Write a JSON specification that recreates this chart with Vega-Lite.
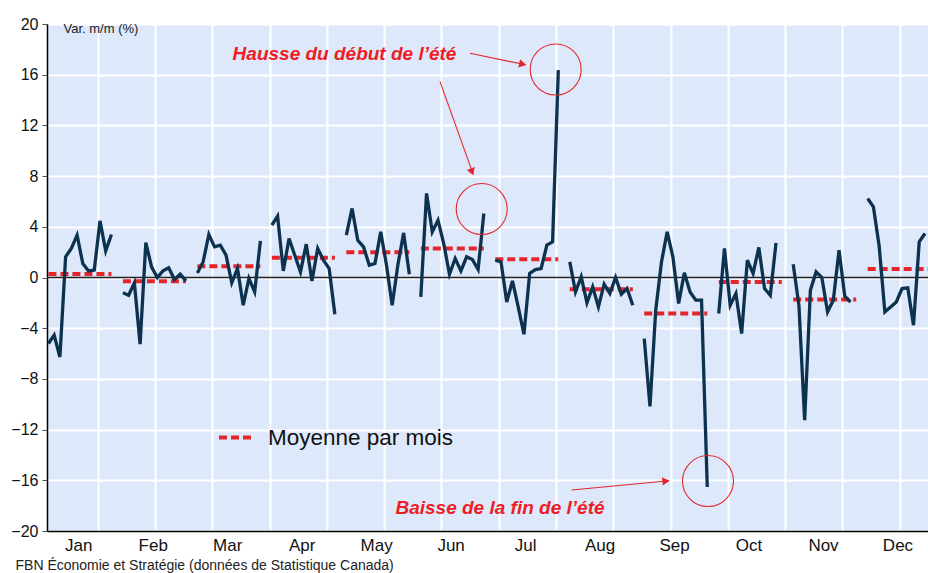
{
  "$schema": "https://vega.github.io/schema/vega-lite/v6.json",
  "width": 881,
  "height": 507,
  "autosize": "none",
  "padding": {"left": 47, "top": 24, "right": 0, "bottom": 42},
  "background": "white",
  "config": {"font": "Liberation Sans", "view": {"fill": "#dde9fa", "stroke": null}},
  "resolve": {"axis": {"x": "independent"}},
  "datasets": {
    "obs": [
      {"m":"Jan","obs":0,"v":-5.21},{"m":"Jan","obs":1,"v":-4.55},{"m":"Jan","obs":2,"v":-6.27},{"m":"Jan","obs":3,"v":1.63},{"m":"Jan","obs":4,"v":2.3},{"m":"Jan","obs":5,"v":3.34},{"m":"Jan","obs":6,"v":1.1},{"m":"Jan","obs":7,"v":0.52},{"m":"Jan","obs":8,"v":0.58},{"m":"Jan","obs":9,"v":4.47},{"m":"Jan","obs":10,"v":2.1},{"m":"Jan","obs":11,"v":3.39},
      {"m":"Feb","obs":13,"v":-1.21},{"m":"Feb","obs":14,"v":-1.4},{"m":"Feb","obs":15,"v":-0.42},{"m":"Feb","obs":16,"v":-5.26},{"m":"Feb","obs":17,"v":2.76},{"m":"Feb","obs":18,"v":0.84},{"m":"Feb","obs":19,"v":0.0},{"m":"Feb","obs":20,"v":0.52},{"m":"Feb","obs":21,"v":0.76},{"m":"Feb","obs":22,"v":-0.16},{"m":"Feb","obs":23,"v":0.26},{"m":"Feb","obs":24,"v":-0.27},
      {"m":"Mar","obs":26,"v":0.35},{"m":"Mar","obs":27,"v":1.23},{"m":"Mar","obs":28,"v":3.39},{"m":"Mar","obs":29,"v":2.42},{"m":"Mar","obs":30,"v":2.55},{"m":"Mar","obs":31,"v":1.76},{"m":"Mar","obs":32,"v":-0.42},{"m":"Mar","obs":33,"v":0.71},{"m":"Mar","obs":34,"v":-2.19},{"m":"Mar","obs":35,"v":-0.08},{"m":"Mar","obs":36,"v":-1.14},{"m":"Mar","obs":37,"v":2.89},
      {"m":"Apr","obs":39,"v":4.13},{"m":"Apr","obs":40,"v":4.84},{"m":"Apr","obs":41,"v":0.52},{"m":"Apr","obs":42,"v":3.08},{"m":"Apr","obs":43,"v":1.76},{"m":"Apr","obs":44,"v":0.44},{"m":"Apr","obs":45,"v":2.63},{"m":"Apr","obs":46,"v":-0.27},{"m":"Apr","obs":47,"v":2.29},{"m":"Apr","obs":48,"v":1.37},{"m":"Apr","obs":49,"v":0.71},{"m":"Apr","obs":50,"v":-2.9},
      {"m":"May","obs":52,"v":3.34},{"m":"May","obs":53,"v":5.45},{"m":"May","obs":54,"v":2.94},{"m":"May","obs":55,"v":2.42},{"m":"May","obs":56,"v":0.97},{"m":"May","obs":57,"v":1.1},{"m":"May","obs":58,"v":3.6},{"m":"May","obs":59,"v":1.0},{"m":"May","obs":60,"v":-2.2},{"m":"May","obs":61,"v":1.0},{"m":"May","obs":62,"v":3.52},{"m":"May","obs":63,"v":0.26},
      {"m":"Jun","obs":65,"v":-1.53},{"m":"Jun","obs":66,"v":6.63},{"m":"Jun","obs":67,"v":3.6},{"m":"Jun","obs":68,"v":4.52},{"m":"Jun","obs":69,"v":2.68},{"m":"Jun","obs":70,"v":0.26},{"m":"Jun","obs":71,"v":1.5},{"m":"Jun","obs":72,"v":0.52},{"m":"Jun","obs":73,"v":1.63},{"m":"Jun","obs":74,"v":1.42},{"m":"Jun","obs":75,"v":0.63},{"m":"Jun","obs":76,"v":5.05},
      {"m":"Jul","obs":78,"v":1.37},{"m":"Jul","obs":79,"v":1.23},{"m":"Jul","obs":80,"v":-1.93},{"m":"Jul","obs":81,"v":-0.27},{"m":"Jul","obs":82,"v":-2.32},{"m":"Jul","obs":83,"v":-4.48},{"m":"Jul","obs":84,"v":0.32},{"m":"Jul","obs":85,"v":0.63},{"m":"Jul","obs":86,"v":0.71},{"m":"Jul","obs":87,"v":2.55},{"m":"Jul","obs":88,"v":2.81},{"m":"Jul","obs":89,"v":16.36},
      {"m":"Aug","obs":91,"v":1.23},{"m":"Aug","obs":92,"v":-1.14},{"m":"Aug","obs":93,"v":0.05},{"m":"Aug","obs":94,"v":-2.0},{"m":"Aug","obs":95,"v":-0.74},{"m":"Aug","obs":96,"v":-2.32},{"m":"Aug","obs":97,"v":-0.53},{"m":"Aug","obs":98,"v":-1.26},{"m":"Aug","obs":99,"v":0.0},{"m":"Aug","obs":100,"v":-1.32},{"m":"Aug","obs":101,"v":-0.87},{"m":"Aug","obs":102,"v":-2.19},
      {"m":"Sep","obs":104,"v":-4.82},{"m":"Sep","obs":105,"v":-10.16},{"m":"Sep","obs":106,"v":-2.6},{"m":"Sep","obs":107,"v":1.2},{"m":"Sep","obs":108,"v":3.6},{"m":"Sep","obs":109,"v":1.63},{"m":"Sep","obs":110,"v":-2.05},{"m":"Sep","obs":111,"v":0.37},{"m":"Sep","obs":112,"v":-1.14},{"m":"Sep","obs":113,"v":-1.79},{"m":"Sep","obs":114,"v":-1.79},{"m":"Sep","obs":115,"v":-16.53},
      {"m":"Oct","obs":117,"v":-2.84},{"m":"Oct","obs":118,"v":2.29},{"m":"Oct","obs":119,"v":-2.19},{"m":"Oct","obs":120,"v":-1.26},{"m":"Oct","obs":121,"v":-4.42},{"m":"Oct","obs":122,"v":1.37},{"m":"Oct","obs":123,"v":0.32},{"m":"Oct","obs":124,"v":2.37},{"m":"Oct","obs":125,"v":-0.87},{"m":"Oct","obs":126,"v":-1.4},{"m":"Oct","obs":127,"v":2.73},
      {"m":"Nov","obs":130,"v":1.05},{"m":"Nov","obs":131,"v":-2.2},{"m":"Nov","obs":132,"v":-11.26},{"m":"Nov","obs":133,"v":-1.0},{"m":"Nov","obs":134,"v":0.44},{"m":"Nov","obs":135,"v":0.0},{"m":"Nov","obs":136,"v":-2.71},{"m":"Nov","obs":137,"v":-1.79},{"m":"Nov","obs":138,"v":2.15},{"m":"Nov","obs":139,"v":-1.48},{"m":"Nov","obs":140,"v":-1.93},
      {"m":"Dec","obs":143,"v":6.23},{"m":"Dec","obs":144,"v":5.57},{"m":"Dec","obs":145,"v":2.5},{"m":"Dec","obs":146,"v":-2.71},{"m":"Dec","obs":147,"v":-2.32},{"m":"Dec","obs":148,"v":-1.93},{"m":"Dec","obs":149,"v":-0.87},{"m":"Dec","obs":150,"v":-0.82},{"m":"Dec","obs":151,"v":-3.76},{"m":"Dec","obs":152,"v":2.81},{"m":"Dec","obs":153,"v":3.47}
    ],
    "means": [
      {"m":"Jan","start":0,"end":11,"mean":0.28},
      {"m":"Feb","start":13,"end":24,"mean":-0.3},
      {"m":"Mar","start":26,"end":37,"mean":0.89},
      {"m":"Apr","start":39,"end":50,"mean":1.55},
      {"m":"May","start":52,"end":63,"mean":2.0},
      {"m":"Jun","start":65,"end":76,"mean":2.29},
      {"m":"Jul","start":78,"end":89,"mean":1.44},
      {"m":"Aug","start":91,"end":102,"mean":-0.92},
      {"m":"Sep","start":104,"end":115,"mean":-2.84},
      {"m":"Oct","start":117,"end":128,"mean":-0.35},
      {"m":"Nov","start":130,"end":141,"mean":-1.74},
      {"m":"Dec","start":143,"end":154,"mean":0.68}
    ],
    "notes": [
      {"x":51.68,"v":17.63,"label":"Hausse du début de l’été"},
      {"x":78.82,"v":-18.15,"label":"Baisse de la fin de l’été"}
    ],
    "circles": [
      {"x":88.54,"v":16.41},
      {"x":75.63,"v":5.4},
      {"x":115.13,"v":-16.06}
    ],
    "arrows": [
      {"x":73.59,"v":17.69,"x2":83.3,"v2":16.78},
      {"x":68.35,"v":15.45,"x2":74.1,"v2":8.2},
      {"x":91.34,"v":-16.77,"x2":108.3,"v2":-16.04}
    ]
  },
  "layer": [
    {
      "data": {"values": [{}]},
      "mark": {"type": "rule", "color": "#222222", "strokeWidth": 1.3},
      "encoding": {"y": {"datum": 0, "type": "quantitative"}}
    },
    {
      "data": {"name": "means"},
      "mark": {"type": "rule", "strokeWidth": 4, "strokeDash": [8, 4]},
      "encoding": {
        "x": {
          "field": "start",
          "type": "quantitative",
          "axis": {
            "orient": "top",
            "values": [8.6, 18.6, 28.6, 38.6, 48.6, 58.6, 68.6, 78.6, 88.6, 98.6, 108.6, 118.6, 128.6, 138.6, 148.6],
            "grid": true,
            "gridColor": "#ffffff",
            "gridWidth": 2,
            "gridOpacity": 1,
            "labels": false,
            "ticks": false,
            "domain": false,
            "title": null
          }
        },
        "x2": {"field": "end"},
        "y": {"field": "mean", "type": "quantitative"},
        "stroke": {
          "datum": "Moyenne par mois",
          "type": "nominal",
          "scale": {"range": ["#e4262c"]},
          "legend": {
            "orient": "none",
            "legendX": 170,
            "legendY": 394,
            "title": null,
            "symbolType": "stroke",
            "symbolSize": 1225,
            "symbolStrokeWidth": 4,
            "symbolDash": [8, 4],
            "labelFontSize": 22.5,
            "labelLimit": 400,
            "labelColor": "#111111",
            "labelOffset": 12
          }
        }
      }
    },
    {
      "data": {"name": "obs"},
      "mark": {"type": "line", "color": "#0c3250", "strokeWidth": 3.3},
      "encoding": {
        "x": {
          "field": "obs",
          "type": "quantitative",
          "scale": {"domain": [-0.25, 153.53], "nice": false, "zero": false},
          "axis": {
            "orient": "bottom",
            "values": [5.2, 18.2, 31.2, 44.2, 57.2, 70.2, 83.2, 96.2, 109.2, 122.2, 135.2, 148.2],
            "labelExpr": "['Jan','Feb','Mar','Apr','May','Jun','Jul','Aug','Sep','Oct','Nov','Dec'][round((datum.value-5.2)/13)]",
            "grid": false,
            "ticks": false,
            "domain": true,
            "domainColor": "#000000",
            "domainWidth": 1.5,
            "labelFontSize": 17,
            "labelColor": "#111111",
            "labelPadding": 6,
            "labelOverlap": false,
            "labelFlush": false,
            "title": "FBN Économie et Stratégie (données de Statistique Canada)",
            "titleFontSize": 14,
            "titleFontWeight": "normal",
            "titleColor": "#222222",
            "titleAnchor": "start",
            "titleAlign": "left",
            "titleBaseline": "alphabetic",
            "titleX": -32,
            "titleY": 38
          }
        },
        "y": {
          "field": "v",
          "type": "quantitative",
          "scale": {"domain": [-20, 20], "nice": false},
          "axis": {
            "values": [-20, -16, -12, -8, -4, 0, 4, 8, 12, 16, 20],
            "grid": true,
            "gridColor": "#ffffff",
            "gridWidth": 2,
            "domainColor": "#000000",
            "domainWidth": 1.5,
            "tickColor": "#555555",
            "tickSize": 5,
            "labelFontSize": 16,
            "labelColor": "#111111",
            "labelPadding": 4,
            "labelFlush": false,
            "title": "Var. m/m (%)",
            "titleAngle": 0,
            "titleX": 16,
            "titleY": 4,
            "titleAlign": "left",
            "titleBaseline": "middle",
            "titleFontSize": 13,
            "titleFontWeight": "normal",
            "titleColor": "#222222"
          }
        },
        "detail": {"field": "m"}
      }
    },
    {
      "data": {"name": "circles"},
      "mark": {"type": "point", "shape": "circle", "filled": false, "stroke": "#e4262c", "strokeWidth": 1.1, "size": 2600, "opacity": 1},
      "encoding": {
        "x": {"field": "x", "type": "quantitative", "axis": null},
        "y": {"field": "v", "type": "quantitative"}
      }
    },
    {
      "data": {"name": "arrows"},
      "mark": {"type": "rule", "color": "#e4262c", "strokeWidth": 1.1},
      "encoding": {
        "x": {"field": "x", "type": "quantitative", "axis": null},
        "y": {"field": "v", "type": "quantitative"},
        "x2": {"field": "x2"},
        "y2": {"field": "v2"}
      }
    },
    {
      "data": {"values": [{}]},
      "mark": {"type": "point", "shape": "triangle-right", "filled": true, "color": "#e4262c", "size": 70, "angle": 11.7, "opacity": 1},
      "encoding": {"x": {"datum": 82.8, "type": "quantitative", "axis": null}, "y": {"datum": 16.83, "type": "quantitative"}}
    },
    {
      "data": {"values": [{}]},
      "mark": {"type": "point", "shape": "triangle-right", "filled": true, "color": "#e4262c", "size": 70, "angle": 70.5, "opacity": 1},
      "encoding": {"x": {"datum": 73.93, "type": "quantitative", "axis": null}, "y": {"datum": 8.33, "type": "quantitative"}}
    },
    {
      "data": {"values": [{}]},
      "mark": {"type": "point", "shape": "triangle-right", "filled": true, "color": "#e4262c", "size": 70, "angle": 354.6, "opacity": 1},
      "encoding": {"x": {"datum": 107.8, "type": "quantitative", "axis": null}, "y": {"datum": -16.06, "type": "quantitative"}}
    },
    {
      "data": {"name": "notes"},
      "mark": {"type": "text", "color": "#ee1c24", "fontSize": 19, "fontWeight": "bold", "fontStyle": "italic", "align": "center", "baseline": "middle"},
      "encoding": {
        "x": {"field": "x", "type": "quantitative", "axis": null},
        "y": {"field": "v", "type": "quantitative"},
        "text": {"field": "label"}
      }
    }
  ]
}
